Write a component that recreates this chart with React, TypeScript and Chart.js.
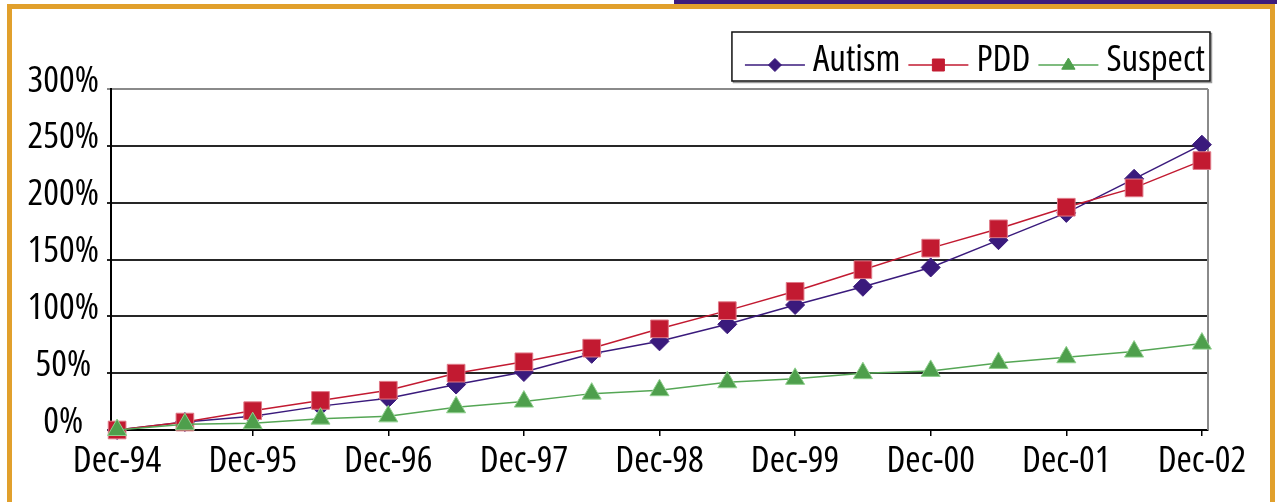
import React, { useEffect, useRef } from 'react';
import { Chart, registerables } from 'chart.js';

Chart.register(...registerables);

// ---- data ----
const periods = [
  'Dec-94', 'Jun-95', 'Dec-95', 'Jun-96', 'Dec-96', 'Jun-97', 'Dec-97', 'Jun-98', 'Dec-98',
  'Jun-99', 'Dec-99', 'Jun-00', 'Dec-00', 'Jun-01', 'Dec-01', 'Jun-02', 'Dec-02',
];
const tickLabels = ['Dec-94', 'Dec-95', 'Dec-96', 'Dec-97', 'Dec-98', 'Dec-99', 'Dec-00', 'Dec-01', 'Dec-02'];
const yTicks = [0, 50, 100, 150, 200, 250, 300];
const seriesNames = ['Autism', 'PDD', 'Suspect'];
const autism = [0, 7, 12, 21, 28, 40, 51, 67, 78, 93, 110, 126, 143, 167, 191, 221, 251];
const pdd = [0, 7, 17, 26, 35, 50, 60, 72, 89, 105, 122, 141, 160, 177, 196, 213, 237];
const suspect = [0, 5, 6, 10, 12, 20, 25, 32, 35, 42, 45, 50, 52, 59, 64, 69, 76];

const FONT = "'Open Sans', 'Roboto Condensed', sans-serif";
const STRETCH = 'condensed';
const FSIZE = 37;
const PURPLE = '#3a1a7c';
const RED = '#c21a31';
const GREEN = '#55a655';
const GOLD = '#e1a02c';

const toPoints = (arr: number[]) => periods.map((_, i) => ({ x: i, y: arr[i] }));

const rightBorder = {
  id: 'rightBorder',
  beforeDatasetsDraw(chart: any) {
    const { ctx, chartArea } = chart;
    ctx.save();
    ctx.strokeStyle = '#8a8a8a';
    ctx.lineWidth = 2;
    ctx.beginPath();
    ctx.moveTo(chartArea.right, chartArea.top);
    ctx.lineTo(chartArea.right, chartArea.bottom);
    ctx.stroke();
    ctx.restore();
  },
};

function drawMarker(ctx: CanvasRenderingContext2D, style: string, x: number, y: number, fill: string, stroke: string) {
  ctx.save();
  ctx.fillStyle = fill;
  ctx.strokeStyle = stroke;
  ctx.lineWidth = 1;
  ctx.beginPath();
  if (style === 'rectRot') {
    const r = 6.5;
    ctx.moveTo(x, y - r);
    ctx.lineTo(x + r, y);
    ctx.lineTo(x, y + r);
    ctx.lineTo(x - r, y);
    ctx.closePath();
  } else if (style === 'rect') {
    const s = 6;
    ctx.rect(x - s, y - s, 2 * s, 2 * s);
  } else {
    const r = 7;
    ctx.moveTo(x, y - r);
    ctx.lineTo(x + r * 0.95, y + r * 0.6);
    ctx.lineTo(x - r * 0.95, y + r * 0.6);
    ctx.closePath();
  }
  ctx.fill();
  ctx.stroke();
  ctx.restore();
}

const customLegend = {
  id: 'customLegend',
  afterDraw(chart: any) {
    const { ctx } = chart;
    const datasets = chart.data.datasets;
    const boxRight = 1210;
    const boxTop = 32;
    const boxBottom = 81;
    const lineLen = 60;
    const gap = 8;
    const padL = 13;
    const padR = 5;
    ctx.save();
    ctx.font = `${STRETCH} ${FSIZE}px ${FONT}`;
    const widths = datasets.map((d: any) => ctx.measureText(d.label).width);
    let total = padL + padR;
    widths.forEach((w: number, i: number) => {
      total += lineLen + gap + w + (i < widths.length - 1 ? gap : 0);
    });
    const boxLeft = boxRight - total;
    ctx.strokeStyle = '#9a9a9a';
    ctx.lineWidth = 1.5;
    ctx.strokeRect(boxLeft + 1.5, boxTop + 1.5, boxRight - boxLeft, boxBottom - boxTop);
    ctx.fillStyle = '#ffffff';
    ctx.fillRect(boxLeft, boxTop, boxRight - boxLeft, boxBottom - boxTop);
    ctx.strokeStyle = '#111111';
    ctx.strokeRect(boxLeft, boxTop, boxRight - boxLeft, boxBottom - boxTop);
    let x = boxLeft + padL;
    const ly = 65;
    datasets.forEach((d: any, i: number) => {
      ctx.strokeStyle = d.borderColor;
      ctx.lineWidth = 1.5;
      ctx.beginPath();
      ctx.moveTo(x, ly);
      ctx.lineTo(x + lineLen, ly);
      ctx.stroke();
      drawMarker(ctx, d.pointStyle, x + lineLen / 2, ly, d.pointBackgroundColor, d.pointBackgroundColor);
      x += lineLen + gap;
      ctx.fillStyle = '#000';
      ctx.textBaseline = 'alphabetic';
      ctx.textAlign = 'left';
      ctx.fillText(d.label, x, 71);
      x += widths[i] + gap;
    });
    ctx.restore();
  },
};

export default function App() {
  const canvasRef = useRef<HTMLCanvasElement | null>(null);

  useEffect(() => {
    const canvas = canvasRef.current;
    if (!canvas) return;
    const tickFont = { family: FONT, size: FSIZE, weight: STRETCH } as any;
    const chart = new Chart(canvas, {
      type: 'line',
      data: {
        datasets: [
          {
            label: seriesNames[0],
            data: toPoints(autism),
            borderColor: PURPLE,
            borderWidth: 1.5,
            pointStyle: 'rectRot',
            pointRadius: 9.5,
            pointBackgroundColor: PURPLE,
            pointBorderColor: PURPLE,
            pointBorderWidth: 1,
            clip: false,
            order: 3,
          },
          {
            label: seriesNames[1],
            data: toPoints(pdd),
            borderColor: RED,
            borderWidth: 1.5,
            pointStyle: 'rect',
            pointRadius: 12.5,
            pointBackgroundColor: RED,
            pointBorderColor: '#e07a88',
            pointBorderWidth: 1,
            clip: false,
            order: 2,
          },
          {
            label: seriesNames[2],
            data: toPoints(suspect),
            borderColor: GREEN,
            borderWidth: 1.5,
            pointStyle: 'triangle',
            pointRadius: 11,
            pointBackgroundColor: '#4e9f4c',
            pointBorderColor: '#8fcf8d',
            pointBorderWidth: 1,
            clip: false,
            order: 1,
          },
        ] as any,
      },
      options: {
        animation: false,
        responsive: false,
        events: [],
        layout: { padding: { top: 89, right: 69, left: 0, bottom: 0 } },
        plugins: {
          legend: { display: false },
          tooltip: { enabled: false },
        },
        scales: {
          x: {
            type: 'linear',
            min: -0.09,
            max: periods.length - 1 + 0.09,
            afterFit: (s: any) => { s.height = 72; },
            afterBuildTicks: (s: any) => {
              s.ticks = tickLabels.map((t) => ({ value: periods.indexOf(t) }));
            },
            grid: { drawOnChartArea: false, drawTicks: true, tickLength: 6, color: '#000', lineWidth: 1.5 },
            border: { display: true, color: '#000', width: 2 },
            ticks: {
              color: '#000',
              font: tickFont,
              padding: 3,
              maxRotation: 0,
              autoSkip: false,
              callback: (v: any) => periods[Number(v)],
            },
          },
          y: {
            min: 0,
            max: 300,
            afterFit: (s: any) => { s.width = 111; },
            afterBuildTicks: (s: any) => { s.ticks = yTicks.map((v) => ({ value: v })); },
            grid: {
              color: (c: any) => (c.tick && c.tick.value === 300 ? '#8a8a8a' : '#262626'),
              lineWidth: 2,
              tickLength: 4,
            },
            border: { display: true, color: '#000', width: 2 },
            ticks: {
              color: '#000',
              font: tickFont,
              crossAlign: 'center',
              padding: 8,
              labelOffset: -8,
              callback: (v: any) => `${v}%`,
            },
          },
        },
      } as any,
      plugins: [rightBorder, customLegend],
    });
    return () => chart.destroy();
  }, []);

  return (
    <div style={{ position: 'fixed', left: 0, top: 0, width: 1277, height: 502, background: '#fff', overflow: 'hidden' }}>
      <div style={{ position: 'absolute', left: 674, top: 0, width: 603, height: 4, background: '#3d1c7c' }} />
      <div
        style={{
          position: 'absolute', left: 7, top: 4, width: 1268, height: 600,
          borderStyle: 'solid', borderColor: GOLD, borderWidth: '5px 5px 5px 5px',
          boxSizing: 'border-box', background: '#fff',
        }}
      />
      <canvas ref={canvasRef} width={1277} height={502} style={{ position: 'absolute', left: 0, top: 0, width: 1277, height: 502 }} />
    </div>
  );
}
